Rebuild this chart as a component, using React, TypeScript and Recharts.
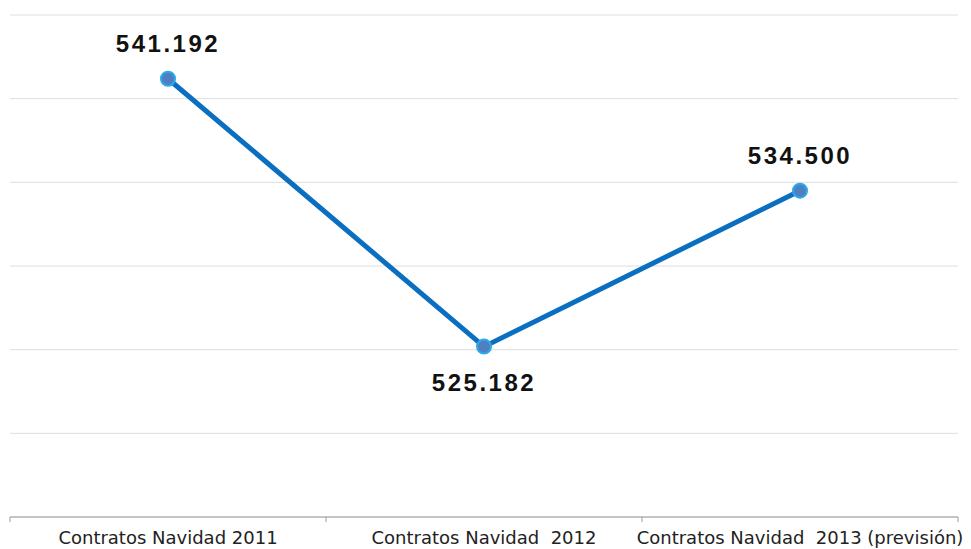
// Christmas contracts line chart

import { LineChart, Line, XAxis, YAxis, CartesianGrid, LabelList } from 'recharts';

const categories = [
  'Contratos Navidad 2011',
  'Contratos Navidad\u00a0 2012',
  'Contratos Navidad\u00a0 2013 (previsión)',
];
const contratos = [541192, 525182, 534500];
const yTicks = [515000, 520000, 525000, 530000, 535000, 540000, 545000];

// each category sits in the middle of its own slot on a 0..n axis
const chartData = categories.map((name, i) => ({ name, pos: i + 0.5, contratos: contratos[i] }));
const xTicks = [0, ...chartData.flatMap((d, i) => [d.pos, i + 1])];

const formatMiles = (v: number) => v.toLocaleString('de-DE');

// slot borders get a small tick, slot centres get the category name
const CategoryTick = (props: any) => {
  const { x, y, payload } = props;
  const v = payload.value as number;
  if (Number.isInteger(v)) {
    return <line x1={x} x2={x} y1={y} y2={y + 5} stroke="#9a9a9a" />;
  }
  const d = chartData.find(c => c.pos === v);
  return (
    <text
      x={x}
      y={y + 27}
      textAnchor="middle"
      fontFamily="'DejaVu Sans', Verdana, sans-serif"
      fontSize={18}
      fill="#222"
    >
      {d ? d.name : ''}
    </text>
  );
};

// value labels: the dip goes under its point, the others above
const ValueLabel = (props: any) => {
  const { x, y, value, index } = props;
  const below = index > 0 && index < contratos.length - 1 && contratos[index] < contratos[index - 1];
  return (
    <text
      x={x}
      y={below ? y + 36 : y - 35}
      textAnchor="middle"
      dominantBaseline="central"
      fontFamily="'Liberation Sans', Arial, sans-serif"
      fontWeight="bold"
      fontSize={24}
      letterSpacing={2.5}
      fill="#111"
    >
      {formatMiles(value)}
    </text>
  );
};

export default function App() {
  return (
    <div style={{ position: 'absolute', left: 0, top: 0, background: '#fff' }}>
      <LineChart
        width={971}
        height={549}
        data={chartData}
        margin={{ top: 15, right: 13, left: 10, bottom: 0 }}
      >
        <CartesianGrid vertical={false} stroke="#dedede" strokeWidth={1} />
        <YAxis hide domain={[515000, 545000]} ticks={yTicks} />
        <XAxis
          dataKey="pos"
          type="number"
          domain={[0, categories.length]}
          ticks={xTicks}
          interval={0}
          height={32}
          axisLine={{ stroke: '#9a9a9a' }}
          tickLine={false}
          tickSize={0}
          tickMargin={0}
          tick={<CategoryTick />}
        />
        <Line
          type="linear"
          dataKey="contratos"
          stroke="#0b6fc1"
          strokeWidth={5}
          dot={{ r: 7, fill: '#4f7fc3', stroke: '#2aaae8', strokeWidth: 2 }}
          activeDot={false}
          isAnimationActive={false}
        >
          <LabelList dataKey="contratos" content={<ValueLabel />} />
        </Line>
      </LineChart>
    </div>
  );
}
